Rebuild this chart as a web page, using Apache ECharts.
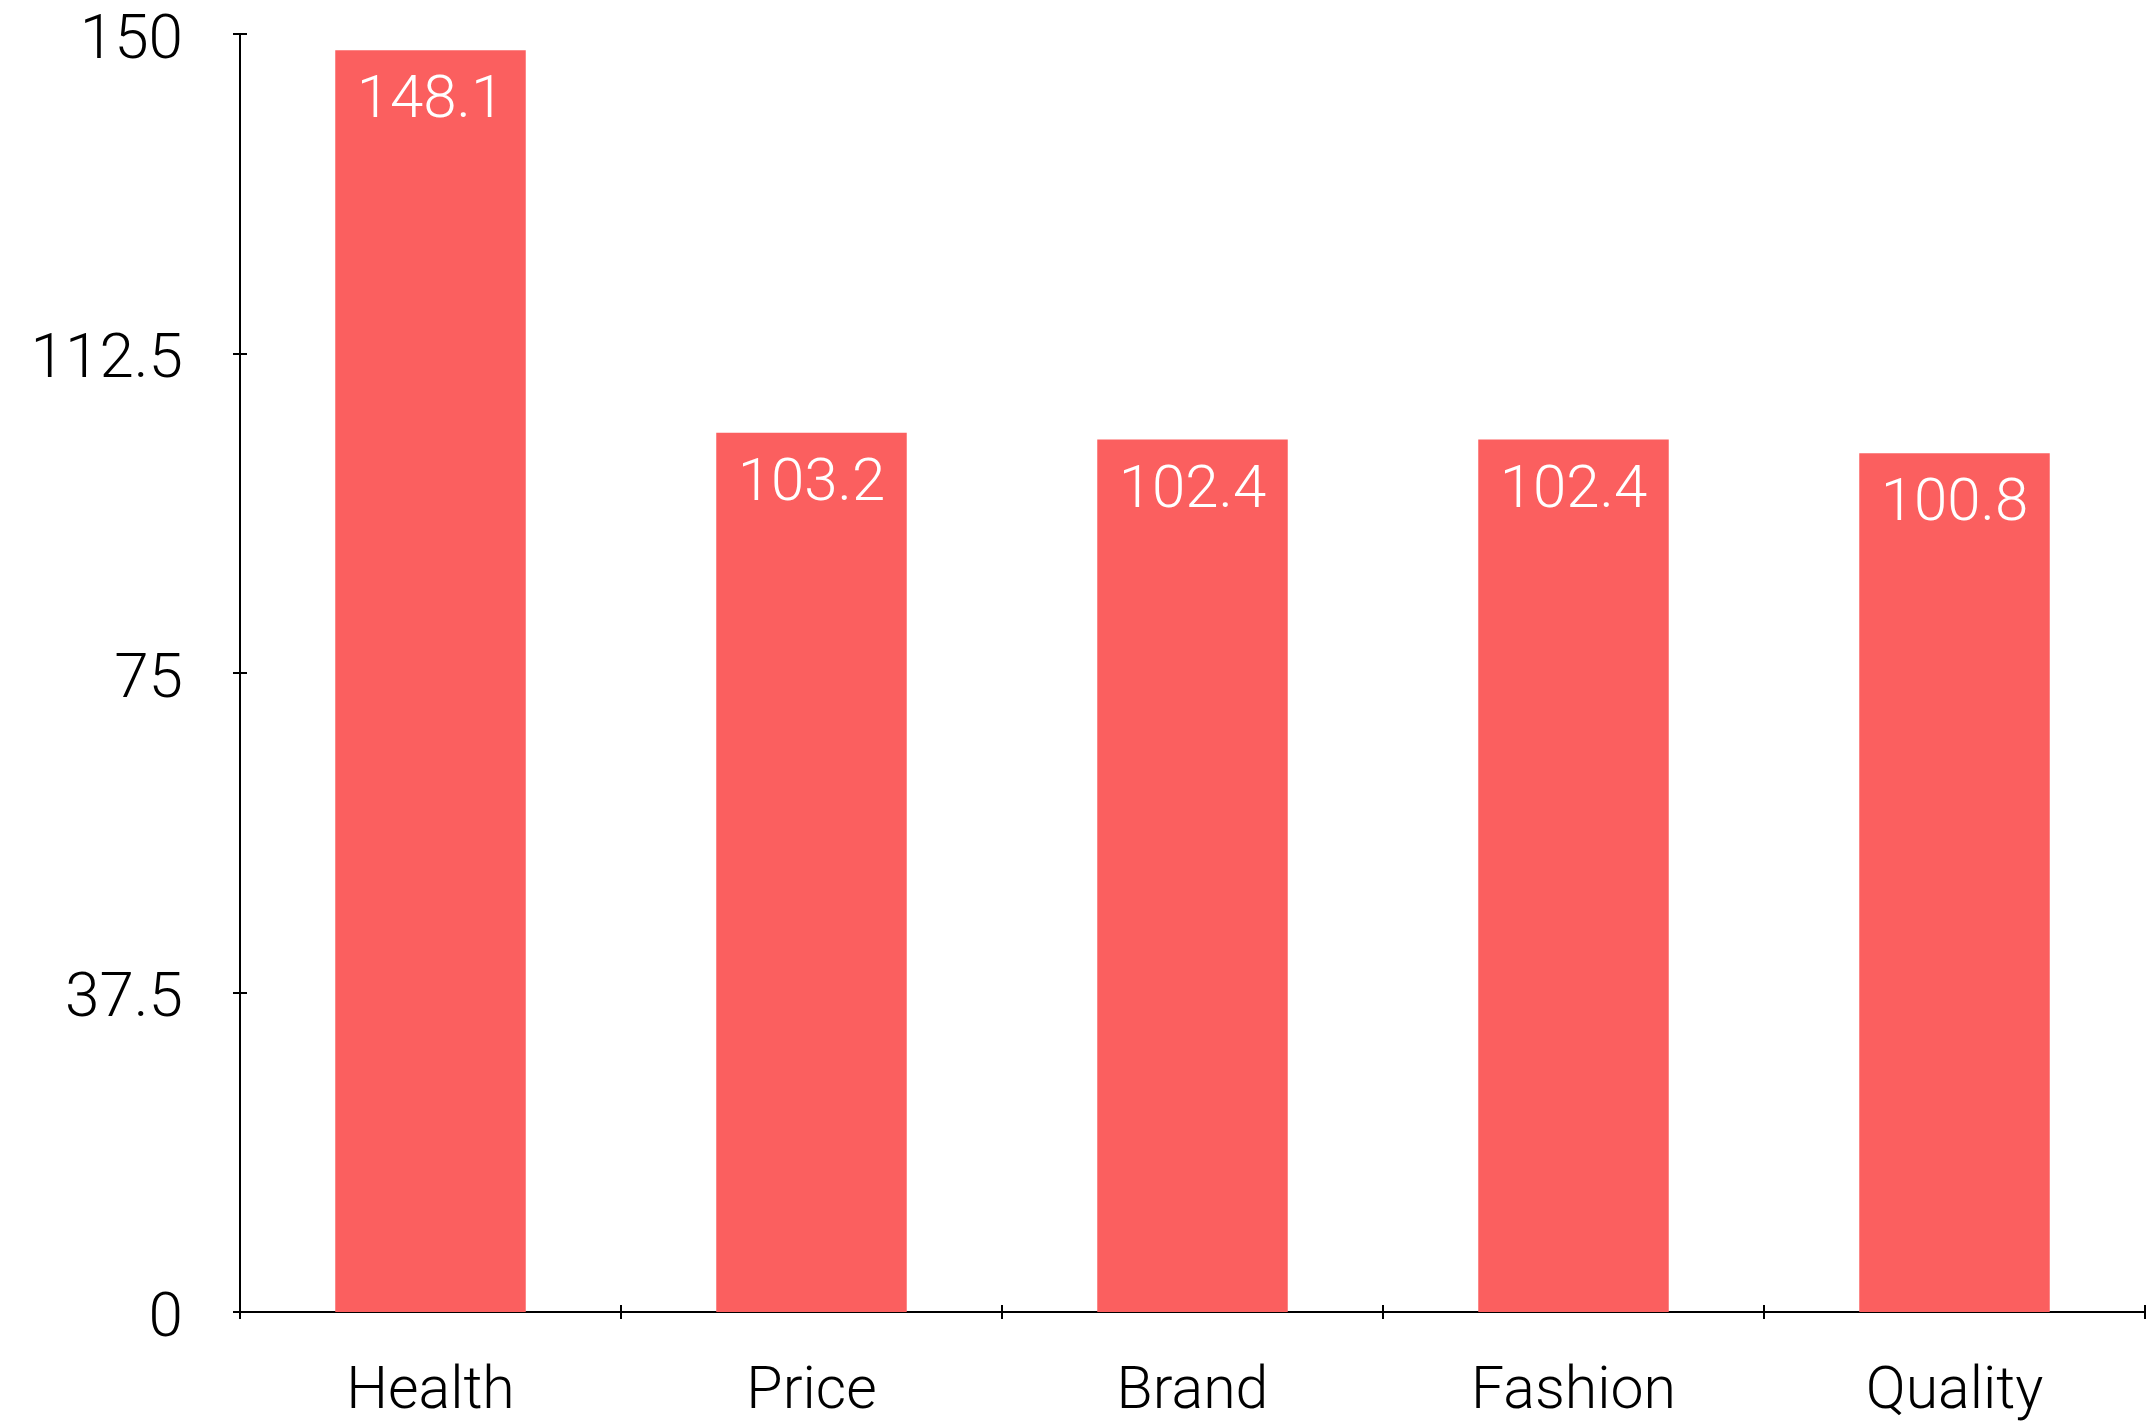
<!DOCTYPE html>
<html>
<head>
<meta charset="utf-8">
<script src="https://cdn.jsdelivr.net/npm/echarts@6/dist/echarts.min.js"></script>
<style>
  html, body { margin: 0; padding: 0; background: #fff; }
  #chart-container { width: 2153px; height: 1423px; }
</style>
</head>
<body>
<div id="chart-container"></div>
<script>
const categories = ['Health', 'Price', 'Brand', 'Fashion', 'Quality'];
const values = [148.1, 103.2, 102.4, 102.4, 100.8];
const yTicks = [0, 37.5, 75, 112.5, 150];

const fontFamily = 'Roboto, "Liberation Sans", sans-serif';
const axisColor = '#000';

const chart = echarts.init(document.getElementById('chart-container'));

const option = {
    backgroundColor: '#fff',
    animation: false,
    grid: { left: 240, right: 8, top: 34, bottom: 107 },
    xAxis: [
        {
            type: 'category',
            data: categories,
            axisLine: { lineStyle: { color: axisColor, width: 2 } },
            axisTick: { show: true, length: 7, lineStyle: { color: axisColor, width: 2 } },
            axisLabel: {
                color: '#000', fontSize: 59, fontFamily: fontFamily, fontWeight: 300, margin: 52
            }
        },
        {
            // second axis to draw the inner half of each tick
            type: 'category',
            data: categories,
            position: 'bottom',
            axisLine: { show: false },
            axisTick: { show: true, inside: true, length: 7, lineStyle: { color: axisColor, width: 2 } },
            axisLabel: { show: false }
        }
    ],
    yAxis: [
        {
            type: 'value',
            min: yTicks[0],
            max: yTicks[yTicks.length - 1],
            interval: 37.5,
            splitLine: { show: false },
            axisLine: { show: true, lineStyle: { color: axisColor, width: 2 } },
            axisTick: { show: true, length: 7, lineStyle: { color: axisColor, width: 2 } },
            axisLabel: {
                margin: 57,
                formatter: '{a|{value}}',
                rich: {
                    a: {
                        color: '#000', fontSize: 62, fontFamily: fontFamily, fontWeight: 300,
                        padding: [16, 0, 0, 0]
                    }
                }
            }
        },
        {
            type: 'value',
            position: 'left',
            min: yTicks[0],
            max: yTicks[yTicks.length - 1],
            interval: 37.5,
            splitLine: { show: false },
            axisLine: { show: false },
            axisTick: { show: true, inside: true, length: 7, lineStyle: { color: axisColor, width: 2 } },
            axisLabel: { show: false }
        }
    ],
    series: [
        {
            type: 'bar',
            data: values,
            barWidth: '50%',
            itemStyle: { color: '#fb5f5f' },
            label: {
                show: true,
                position: 'insideTop',
                distance: 22,
                color: '#fff',
                fontSize: 60,
                fontFamily: fontFamily,
                fontWeight: 300
            }
        }
    ]
};

chart.setOption(option);
</script>
</body>
</html>
